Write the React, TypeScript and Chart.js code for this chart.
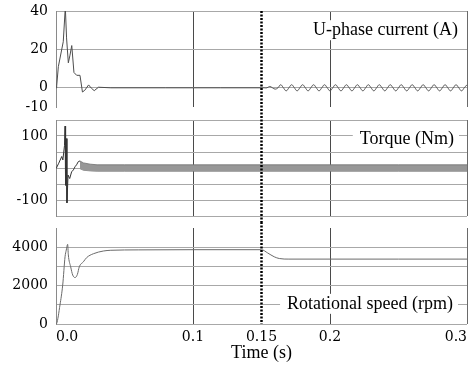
import React, { useEffect, useRef } from 'react';
import { Chart, registerables } from 'chart.js';

Chart.register(...registerables);

// ---- shared time axis ----
const timeTicks = [0, 0.1, 0.15, 0.2, 0.3];
const timeTickLabels = ['0.0', '0.1', '0.15', '0.2', '0.3'];
const stepTime = 0.15;

// ---- Panel 1: U-phase current (A) ----
const currentTime = [0, 0.0005, 0.0017, 0.0053, 0.0068, 0.0077, 0.009, 0.0102, 0.0115, 0.0131, 0.0151, 0.0175, 0.0193, 0.021, 0.0238, 0.0258, 0.0279, 0.031, 0.04, 0.08, 0.12, 0.15];
const currentValue = [0, 1, 11, 24, 42, 26, 13, 17, 22, 8, 6.5, 6.5, -2.2, -1.3, 1.5, -0.2, -1.5, 0.3, 0, 0, 0, 0];
const rippleStart = 0.15;
const rippleStep = 0.002;
const currentRipple = [
  0, 0, 0, 0.7, 0, -0.7, 0,
  1.6, 0, -1.6, 0, 1.6, 0, -1.6, 0, 1.6, 0, -1.6, 0, 1.6, 0, -1.6, 0,
  1.6, 0, -1.6, 0, 1.6, 0, -1.6, 0, 1.6, 0, -1.6, 0, 1.6, 0, -1.6, 0,
  1.6, 0, -1.6, 0, 1.6, 0, -1.6, 0, 1.6, 0, -1.6, 0, 1.6, 0, -1.6, 0,
  1.6, 0, -1.6, 0, 1.6, 0, -1.6, 0, 1.6, 0, -1.6, 0, 1.6, 0, -1.6, 0,
  1.6, 0, -1.6, 0, 1.6,
];
const currentTicks = [-10, 0, 20, 40];
const currentLabelled = [-10, 0, 20, 40];

// ---- Panel 2: Torque (Nm) ----
const torqueTime = [0, 0.0005, 0.002, 0.0042, 0.005, 0.0062, 0.0066, 0.007, 0.0074, 0.008, 0.0088, 0.01, 0.0114, 0.0127, 0.0139, 0.015, 0.0163, 0.0175];
const torqueValue = [0, 2, 15, 36, 25, 70, 131, -54, 92, -109, -22, -33, -12, -6, 4, 10, 20, 22];
const torqueBandTime = [0.0175, 0.02, 0.025, 0.03, 0.05, 0.1, 0.15, 0.2, 0.25, 0.3];
const torqueBandUpper = [22, 16, 12, 10, 10, 10, 10, 10, 10, 10];
const torqueBandLower = [-2, -7, -9, -10, -10, -10, -10, -10, -10, -10];
const torqueTicks = [-150, -100, -50, 0, 50, 100, 150];
const torqueLabelled = [-100, 0, 100];

// ---- Panel 3: Rotational speed (rpm) ----
const speedTime = [0, 0.0005, 0.0029, 0.0049, 0.0066, 0.0075, 0.0085, 0.009, 0.0107, 0.0122, 0.0139, 0.0156, 0.017, 0.02, 0.0224, 0.0273, 0.0345, 0.04, 0.06, 0.1, 0.15, 0.1545, 0.1593, 0.163, 0.17, 0.2, 0.25, 0.3];
const speedValue = [0, 30, 990, 2030, 3500, 3850, 4150, 3600, 2980, 2550, 2420, 2580, 2980, 3240, 3460, 3660, 3800, 3840, 3860, 3870, 3870, 3700, 3500, 3410, 3380, 3380, 3380, 3380];
const speedTicks = [0, 1000, 2000, 3000, 4000, 5000];
const speedLabelled = [0, 2000, 4000];

const xTickFont = { family: "'DejaVu Serif', serif", size: 14 };
const yTickFont = { family: "'DejaVu Serif', serif", size: 14, lineHeight: 0.01 };
const labelFontCss = "18px 'Liberation Serif', serif";
const titleFont = { family: "'Liberation Serif', serif", size: 18 };

const pts = (xs: number[], ys: number[]) => xs.map((x, i) => ({ x, y: ys[i] }));

function xGridColor(v: number) {
  if (v === 0.1 || v === 0.2) return '#4a4a4a';
  if (v === 0.3) return '#6a6a6a';
  return 'rgba(0,0,0,0)';
}

function xScale(showLabels: boolean, height: number) {
  return {
    type: 'linear',
    min: 0,
    max: 0.3,
    afterBuildTicks: (s: any) => {
      s.ticks = timeTicks.map((v) => ({ value: v }));
    },
    afterFit: (s: any) => {
      s.height = height;
    },
    grid: {
      color: (c: any) => xGridColor(c.tick ? c.tick.value : -1),
      lineWidth: 1,
      drawTicks: false,
    },
    border: { display: false },
    ticks: {
      display: showLabels,
      autoSkip: false,
      maxRotation: 0,
      align: 'inner',
      padding: 5,
      color: '#000',
      font: xTickFont,
      callback: (v: number) => {
        const i = timeTicks.indexOf(v);
        return i >= 0 ? timeTickLabels[i] : '';
      },
    },
    title: {
      display: showLabels,
      text: 'Time (s)',
      color: '#000',
      font: titleFont,
      padding: { top: 0, bottom: 8 },
    },
  };
}

function yScale(min: number, max: number, ticks: number[], labelled: number[], hidden: number[]) {
  return {
    type: 'linear',
    min,
    max,
    afterBuildTicks: (s: any) => {
      s.ticks = ticks.map((v) => ({ value: v }));
    },
    afterFit: (s: any) => {
      s.width = 56;
    },
    grid: {
      color: (c: any) => (c.tick && hidden.includes(c.tick.value) ? 'rgba(0,0,0,0)' : '#a8a8a8'),
      lineWidth: 1,
      drawTicks: true,
      tickLength: 8,
      tickColor: 'rgba(0,0,0,0)',
    },
    border: { display: true, color: '#8a8a8a', width: 1 },
    ticks: {
      autoSkip: false,
      padding: 0,
      color: '#000',
      font: yTickFont,
      callback: (v: number) => (labelled.includes(v) ? String(v) : ''),
    },
  };
}

function decoPlugin(label: string, labelValue: number, rightInset: number, fromTop: boolean, toBottom: boolean) {
  return {
    id: 'panelDeco',
    afterDraw(chart: any) {
      const { ctx, chartArea, scales } = chart;
      ctx.save();
      ctx.font = labelFontCss;
      const w = ctx.measureText(label).width;
      const right = chartArea.right - rightInset;
      const y = scales.y.getPixelForValue(labelValue);
      ctx.fillStyle = '#fff';
      ctx.fillRect(right - w - 7, y - 10, w + 12, 20);
      ctx.fillStyle = '#000';
      ctx.textAlign = 'right';
      ctx.textBaseline = 'middle';
      ctx.fillText(label, right, y);
      const x = scales.x.getPixelForValue(stepTime);
      ctx.strokeStyle = '#000';
      ctx.lineWidth = 2.5;
      ctx.setLineDash([2, 1.5]);
      ctx.beginPath();
      ctx.moveTo(x, fromTop ? 0 : chartArea.top);
      ctx.lineTo(x, toBottom ? chart.height : chartArea.bottom);
      ctx.stroke();
      ctx.restore();
    },
  };
}

const baseOptions = (padding: any, scales: any) => ({
  responsive: false,
  animation: false,
  devicePixelRatio: 1,
  layout: { padding, autoPadding: false },
  plugins: { legend: { display: false }, tooltip: { enabled: false }, title: { display: false } },
  elements: { point: { radius: 0 } },
  scales,
});

export default function App() {
  const c1 = useRef<HTMLCanvasElement>(null);
  const c2 = useRef<HTMLCanvasElement>(null);
  const c3 = useRef<HTMLCanvasElement>(null);

  useEffect(() => {
    const ripplePts = currentRipple.map((y, i) => ({ x: rippleStart + i * rippleStep, y }));

    const chart1 = new Chart(c1.current!, {
      type: 'line',
      data: {
        datasets: [
          { data: pts(currentTime, currentValue), borderColor: '#4d4d4d', borderWidth: 1, tension: 0, fill: false },
          { data: ripplePts, borderColor: '#555', borderWidth: 1, tension: 0.4, fill: false },
        ],
      },
      options: baseOptions(
        { top: 11, right: 9, bottom: 9, left: 0 },
        { x: xScale(false, 0), y: yScale(-10, 40, currentTicks, currentLabelled, [-10]) }
      ) as any,
      plugins: [decoPlugin('U-phase current (A)', 30, 9, false, true)],
    });

    const chart2 = new Chart(c2.current!, {
      type: 'line',
      data: {
        datasets: [
          { data: pts(torqueBandTime, torqueBandUpper), borderColor: '#707070', borderWidth: 0.8, backgroundColor: '#979797', fill: '+1', tension: 0 },
          { data: pts(torqueBandTime, torqueBandLower), borderColor: '#707070', borderWidth: 0.8, fill: false, tension: 0 },
          { data: pts(torqueTime, torqueValue), borderColor: '#333', borderWidth: 1, fill: false, tension: 0 },
        ],
      },
      options: baseOptions(
        { top: 4, right: 9, bottom: 6, left: 0 },
        { x: xScale(false, 0), y: yScale(-150, 150, torqueTicks, torqueLabelled, []) }
      ) as any,
      plugins: [decoPlugin('Torque (Nm)', 89, 13, true, true)],
    });

    const chart3 = new Chart(c3.current!, {
      type: 'line',
      data: {
        datasets: [
          { data: pts(speedTime, speedValue), borderColor: '#6a6a6a', borderWidth: 1, fill: false, cubicInterpolationMode: 'monotone' },
        ],
      },
      options: baseOptions(
        { top: 6, right: 9, bottom: 0, left: 0 },
        { x: xScale(true, 48), y: yScale(0, 5000, speedTicks, speedLabelled, [5000]) }
      ) as any,
      plugins: [decoPlugin('Rotational speed (rpm)', 1050, 14, true, false)],
    });

    return () => {
      chart1.destroy();
      chart2.destroy();
      chart3.destroy();
    };
  }, []);

  return (
    <div style={{ position: 'fixed', left: 0, top: 0, width: 476, height: 372, background: '#fff' }}>
      <canvas ref={c1} width={476} height={116} style={{ position: 'absolute', left: 0, top: 0 }} />
      <canvas ref={c2} width={476} height={106} style={{ position: 'absolute', left: 0, top: 116 }} />
      <canvas ref={c3} width={476} height={150} style={{ position: 'absolute', left: 0, top: 222 }} />
    </div>
  );
}
